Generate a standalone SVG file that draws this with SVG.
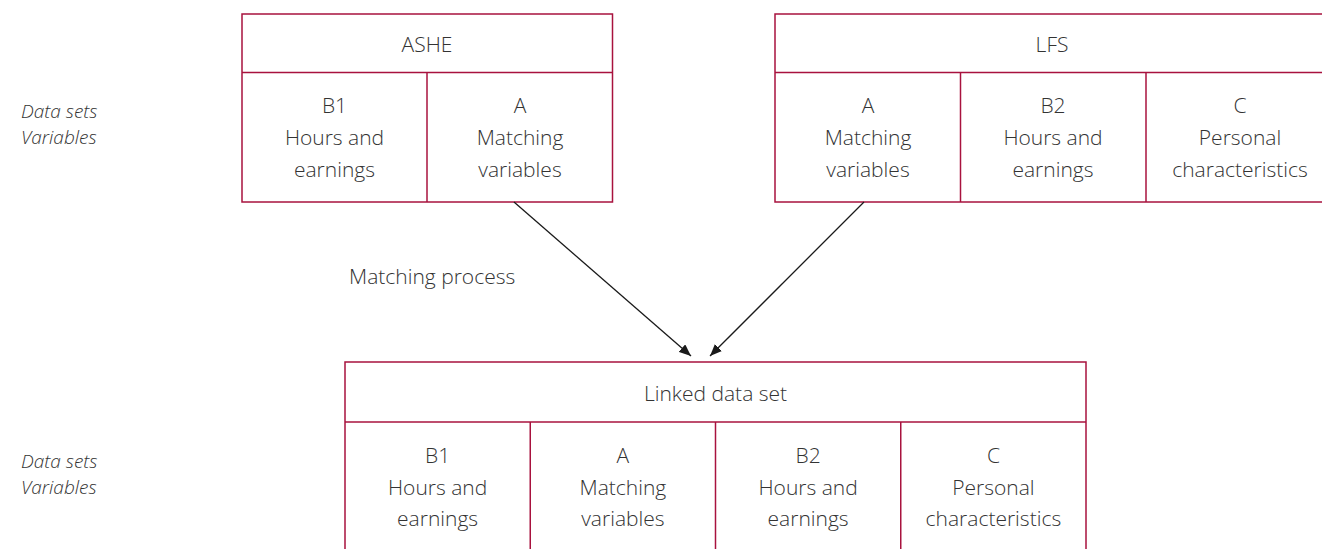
<svg xmlns="http://www.w3.org/2000/svg" width="1322" height="549" viewBox="0 0 1322 549">
<defs>
<style>
.box{fill:none;stroke:#a8123e;stroke-width:1.5}
.t{font-family:"Open Sans","DejaVu Sans",sans-serif;font-size:21px;font-weight:300;fill:#333;text-anchor:middle}
.lab{font-family:"Open Sans","DejaVu Sans",sans-serif;font-size:19px;font-weight:300;font-style:italic;fill:#333}
.conn{stroke:#1a1a1a;stroke-width:1.3;fill:none}
</style>
<marker id="ah" viewBox="0 0 12 10" refX="12" refY="5" markerWidth="12" markerHeight="10" markerUnits="userSpaceOnUse" orient="auto">
<path d="M0,0 L12,5 L0,10 Z" fill="#1a1a1a"/>
</marker>
</defs>
<rect width="1322" height="549" fill="#fff"/>
<g id="labels-top">
<text class="lab" x="21" y="118">Data sets</text>
<text class="lab" x="21" y="144">Variables</text>
</g>
<g id="labels-bottom">
<text class="lab" x="21" y="468">Data sets</text>
<text class="lab" x="21" y="494">Variables</text>
</g>
<g id="ashe">
<rect class="box" x="242" y="14" width="370.5" height="188"/>
<line class="box" x1="242" y1="72.5" x2="612.5" y2="72.5"/>
<line class="box" x1="427" y1="72.5" x2="427" y2="202"/>
<text class="t" x="427" y="52">ASHE</text>
<text class="t" x="334.5" y="113">B1</text>
<text class="t" x="334.5" y="145">Hours and</text>
<text class="t" x="334.5" y="177">earnings</text>
<text class="t" x="520" y="113">A</text>
<text class="t" x="520" y="145">Matching</text>
<text class="t" x="520" y="177">variables</text>
</g>
<g id="lfs">
<rect class="box" x="775" y="14" width="560" height="188"/>
<line class="box" x1="775" y1="72.5" x2="1335" y2="72.5"/>
<line class="box" x1="960.5" y1="72.5" x2="960.5" y2="202"/>
<line class="box" x1="1146" y1="72.5" x2="1146" y2="202"/>
<text class="t" x="1052" y="52">LFS</text>
<text class="t" x="868" y="113">A</text>
<text class="t" x="868" y="145">Matching</text>
<text class="t" x="868" y="177">variables</text>
<text class="t" x="1053" y="113">B2</text>
<text class="t" x="1053" y="145">Hours and</text>
<text class="t" x="1053" y="177">earnings</text>
<text class="t" x="1240" y="113">C</text>
<text class="t" x="1240" y="145">Personal</text>
<text class="t" x="1240" y="177">characteristics</text>
</g>
<g id="linked">
<rect class="box" x="345" y="362" width="741" height="200"/>
<line class="box" x1="345" y1="422" x2="1086" y2="422"/>
<line class="box" x1="530.25" y1="422" x2="530.25" y2="562"/>
<line class="box" x1="715.5" y1="422" x2="715.5" y2="562"/>
<line class="box" x1="900.75" y1="422" x2="900.75" y2="562"/>
<text class="t" x="715.5" y="401">Linked data set</text>
<text class="t" x="437.6" y="463">B1</text>
<text class="t" x="437.6" y="495">Hours and</text>
<text class="t" x="437.6" y="526">earnings</text>
<text class="t" x="622.9" y="463">A</text>
<text class="t" x="622.9" y="495">Matching</text>
<text class="t" x="622.9" y="526">variables</text>
<text class="t" x="808.1" y="463">B2</text>
<text class="t" x="808.1" y="495">Hours and</text>
<text class="t" x="808.1" y="526">earnings</text>
<text class="t" x="993.4" y="463">C</text>
<text class="t" x="993.4" y="495">Personal</text>
<text class="t" x="993.4" y="526">characteristics</text>
</g>
<g id="connectors">
<line class="conn" x1="514" y1="202" x2="691" y2="356" marker-end="url(#ah)"/>
<line class="conn" x1="864" y1="202" x2="710" y2="356" marker-end="url(#ah)"/>
<text class="t" x="349" y="284" style="text-anchor:start">Matching process</text>
</g>
</svg>
